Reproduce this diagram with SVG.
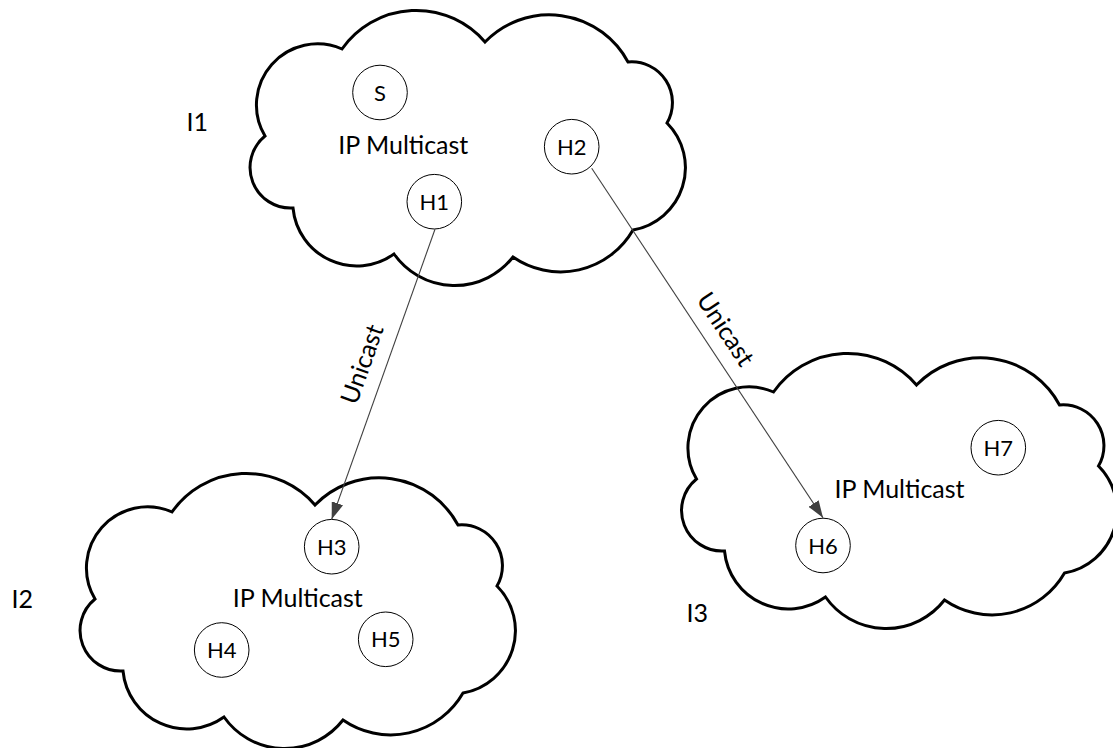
<svg xmlns="http://www.w3.org/2000/svg" width="1113" height="748" viewBox="0 0 1113 748">
<style>
.cloud{fill:#fff;stroke:#000;stroke-width:3;stroke-linejoin:miter}
.node{fill:#fff;stroke:#000;stroke-width:1}
.nl{font-family:Lato,"Liberation Sans",sans-serif;font-size:22px;fill:#000;text-anchor:middle}
.lbl{font-family:Lato,"Liberation Sans",sans-serif;font-size:25px;fill:#000}
.mid{text-anchor:middle}
.conn{stroke:#404040;stroke-width:1.1;fill:none;marker-end:url(#arr)}
</style>
<defs>
<path id="cloudShape" d="M265,136 A61,61 0 0 1 342,49 A90.7,90.7 0 0 1 485,42 A89.4,89.4 0 0 1 628,62 A40.8,40.8 0 0 1 667,123 A63.3,63.3 0 0 1 633,230 A83.5,83.5 0 0 1 513,257 A74,74 0 0 1 394,254 A64,64 0 0 1 293,208 A40.6,40.6 0 0 1 265,136 Z"/>
<marker id="arr" markerUnits="userSpaceOnUse" markerWidth="18" markerHeight="12" refX="17" refY="6" orient="auto">
<path d="M0,0 L17,6 L0,12 Z" fill="#404040"/>
</marker>
</defs>
<rect width="1113" height="748" fill="#fff"/>

<g id="I1">
<use href="#cloudShape" class="cloud"/>
<text class="lbl mid" x="403.3" y="154.3">IP Multicast</text>
<text class="lbl" x="186.5" y="130.7">I1</text>
</g>
<g id="I2">
<use href="#cloudShape" class="cloud" transform="translate(-170,463)"/>
<text class="lbl mid" x="297.8" y="607.3">IP Multicast</text>
<text class="lbl" x="11.5" y="608.3">I2</text>
</g>
<g id="I3">
<use href="#cloudShape" class="cloud" transform="translate(431.5,343)"/>
<text class="lbl mid" x="899.5" y="498.3">IP Multicast</text>
<text class="lbl" x="686.5" y="621.7">I3</text>
</g>

<g id="S"><circle class="node" cx="380" cy="92.5" r="27.3"/><text class="nl" x="380" y="100.5">S</text></g>
<g id="H1"><circle class="node" cx="434.3" cy="201.7" r="27.3"/><text class="nl" x="434.3" y="209.7">H1</text></g>
<g id="H2"><circle class="node" cx="571.7" cy="146.7" r="27.3"/><text class="nl" x="571.7" y="154.7">H2</text></g>
<g id="H3"><circle class="node" cx="331.7" cy="546.7" r="27.3"/><text class="nl" x="331.7" y="554.7">H3</text></g>
<g id="H4"><circle class="node" cx="221.7" cy="650" r="27.3"/><text class="nl" x="221.7" y="658">H4</text></g>
<g id="H5"><circle class="node" cx="385.7" cy="639.3" r="27.3"/><text class="nl" x="385.7" y="647.3">H5</text></g>
<g id="H6"><circle class="node" cx="823" cy="545.5" r="27.3"/><text class="nl" x="823" y="553.5">H6</text></g>
<g id="H7"><circle class="node" cx="998.3" cy="447.7" r="27.3"/><text class="nl" x="998.3" y="455.7">H7</text></g>

<g id="connectors">
<line class="conn" x1="435" y1="229.3" x2="331.7" y2="519.3"/>
<line class="conn" x1="591.7" y1="168.3" x2="823" y2="517.7"/>
<text class="lbl mid" transform="translate(370.2,367) rotate(-70.4)">Unicast</text>
<text class="lbl mid" transform="translate(718.3,334) rotate(56.5)">Unicast</text>
</g>
</svg>
